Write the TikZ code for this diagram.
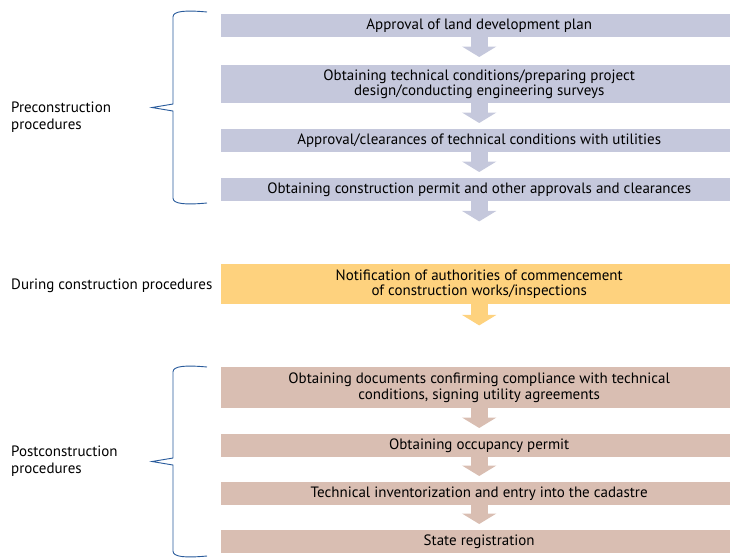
\documentclass[tikz,border=0pt]{standalone}
\usepackage{fontspec}
\setmainfont{PT Sans}
\usetikzlibrary{arrows.meta,calc}
\definecolor{preC}{RGB}{197,200,220}
\definecolor{durC}{RGB}{254,210,126}
\definecolor{postC}{RGB}{217,190,178}
\definecolor{braceC}{RGB}{40,90,155}
\begin{document}
\begin{tikzpicture}[x=1pt,y=-1pt,
  stepbox/.style={anchor=north west,minimum width=516pt,inner sep=0pt,align=center,
    font=\fontsize{15}{15.5}\selectfont,text=black},
  pre/.style={stepbox,fill=preC},
  dur/.style={stepbox,fill=durC},
  post/.style={stepbox,fill=postC},
  flow/.style={line width=17pt,-{Triangle[width=34pt,length=10.5pt]}},
  lbl/.style={anchor=west,align=left,inner sep=0pt,font=\fontsize{15}{16.5}\selectfont},
  brace/.style={draw=braceC,line width=0.9pt,line join=miter}]
\useasboundingbox (0,0) rectangle (730,557);
% boxes
\node[pre,minimum height=23pt] (b1) at (221,14) {Approval of land development plan};
\node[pre,minimum height=38pt] (b2) at (221,65) {Obtaining technical conditions/preparing project\\design/conducting engineering surveys};
\node[pre,minimum height=23pt] (b3) at (221,129) {Approval/clearances of technical conditions with utilities};
\node[pre,minimum height=23pt] (b4) at (221,178) {Obtaining construction permit and other approvals and clearances};
\node[dur,minimum height=40pt] (b5) at (221,264) {Notification of authorities of commencement\\of construction works/inspections};
\node[post,minimum height=41pt] (b6) at (221,367) {Obtaining documents confirming compliance with technical\\conditions, signing utility agreements};
\node[post,minimum height=23pt] (b7) at (221,434) {Obtaining occupancy permit};
\node[post,minimum height=23pt] (b8) at (221,482) {Technical inventorization and entry into the cadastre};
\node[post,minimum height=23pt] (b9) at (221,530) {State registration};
% arrows
\draw[flow,draw=preC] (b1.south) -- ($(b2.north)+(0,-8)$);
\draw[flow,draw=preC] (b2.south) -- ($(b3.north)+(0,-6)$);
\draw[flow,draw=preC] (b3.south) -- ($(b4.north)+(0,-6)$);
\coordinate (e4) at ($(b4.south)+(0,20)$);
\draw[flow,draw=preC] (b4.south) -- (e4);
\coordinate (e5) at ($(b5.south)+(0,21)$);
\draw[flow,draw=durC] (b5.south) -- (e5);
\draw[flow,draw=postC] (b6.south) -- ($(b7.north)+(0,-6)$);
\draw[flow,draw=postC] (b7.south) -- ($(b8.north)+(0,-6)$);
\draw[flow,draw=postC] (b8.south) -- ($(b9.north)+(0,-6)$);
% labels
\node[lbl] (l1) at (11,117) {Preconstruction\\procedures};
\node[lbl] (l2) at (11,286) {During construction procedures};
\node[lbl] (l3) at (11,461) {Postconstruction\\procedures};
% braces
\draw[brace] (207,12) .. controls (185,10) and (173,11) .. (173,17)
  -- (173,104) -- (152,107.5) -- (173,111) -- (173,198)
  .. controls (173,204) and (185,205) .. (207,203);
\draw[brace] (207,367) .. controls (185,365) and (173,366) .. (173,372)
  -- (173,458) -- (152,461.5) -- (173,465) -- (173,551)
  .. controls (173,557) and (185,558) .. (207,556);
\end{tikzpicture}
\end{document}
